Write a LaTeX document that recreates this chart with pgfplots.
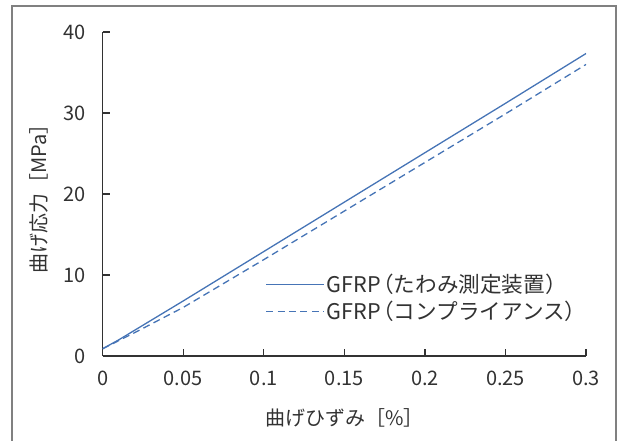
\documentclass[border=0pt]{standalone}
\usepackage{fontspec}
\setmainfont{Noto Sans CJK JP}
\usepackage{pgfplots}
\pgfplotsset{compat=1.18}
\definecolor{serie}{RGB}{70,116,182}
\definecolor{axc}{RGB}{50,50,50}
\definecolor{framec}{RGB}{128,128,128}
\begin{document}
\begin{tikzpicture}
\fontsize{10}{12}\selectfont
\useasboundingbox (-51.35pt,-42pt) rectangle (257.15pt,178pt);
\draw[framec, line width=0.8pt] (-45.35pt,-60pt) -- (-45.35pt,175pt) -- (256.65pt,175pt) -- (256.65pt,-60pt);
\begin{axis}[
  scale only axis,
  width=241.7pt, height=162pt,
  xmin=0, xmax=0.3, ymin=0, ymax=40,
  axis x line=bottom, axis y line=left,
  axis line style={-, axc, line width=0.7pt},
  tick align=inside,
  major tick length=3.5pt,
  tick style={axc, line width=0.6pt},
  xtick={0,0.05,0.1,0.15,0.2,0.25,0.3},
  ytick={0,10,20,30,40},
  xticklabel style={/pgf/number format/fixed, /pgf/number format/precision=2, text=axc},
  yticklabel style={text=axc},
  /pgf/number format/assume math mode=true,
  xticklabel shift=4pt,
  yticklabel shift=5pt,
  xlabel={曲げひずみ［\%］},
  ylabel={曲げ応力［MPa］},
  label style={text=axc},
  xlabel style={at={(axis description cs:0.5,0)}, anchor=center, yshift=-31pt},
  ylabel style={at={(axis description cs:0,0.5)}, anchor=center, yshift=32pt},
  legend style={draw=none, fill=none, at={(axis description cs:0.336,0.262)}, anchor=north west,
    row sep=0.8pt, inner sep=0pt, nodes={inner sep=1pt, text=axc, font=\fontsize{10.8}{13}\selectfont}},
  legend cell align=left,
  legend image code/.code={\draw[#1] (0pt,0pt) -- (29pt,0pt);},
]
\addplot[serie, line width=0.65pt] coordinates {
  (0,0.9) (0.01,2.0) (0.02,3.2) (0.05,6.8) (0.1,12.9) (0.15,19.0) (0.2,25.1) (0.25,31.2) (0.3,37.35)
};
\addlegendentry{GFRP\kern-0.4em（たわみ測定装置）}
\addplot[serie, line width=0.65pt, dash pattern=on 3.5pt off 2.2pt] coordinates {
  (0,0.9) (0.01,1.9) (0.02,2.9) (0.05,6.0) (0.1,11.9) (0.15,17.9) (0.2,23.9) (0.25,29.9) (0.3,36.0)
};
\addlegendentry{GFRP\kern-0.4em（コンプライアンス）}
\end{axis}
\end{tikzpicture}
\end{document}
